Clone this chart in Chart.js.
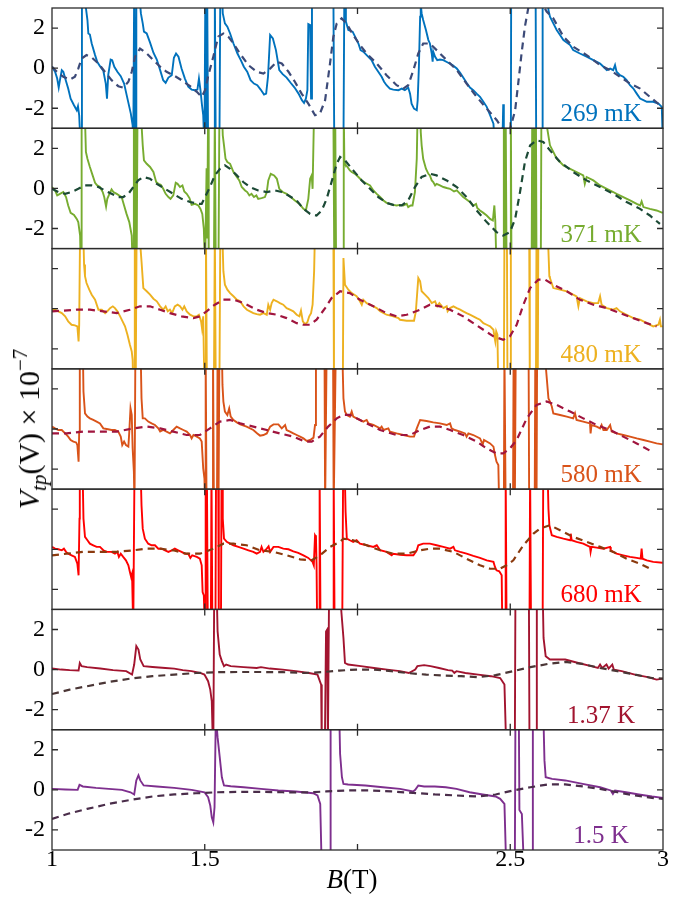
<!DOCTYPE html>
<html>
<head>
<meta charset="utf-8">
<script src="https://cdn.jsdelivr.net/npm/chart.js@4"></script>
<style>
  body { margin: 0; background: #fff; }
  #wrap { position: relative; width: 682px; height: 898px; }
  #ytitle {
    position: absolute; left: 29px; top: 429px;
    transform: translate(-50%, -50%) rotate(-90deg);
    font-family: "Liberation Serif"; font-size: 30px; white-space: nowrap; color: #000;
  }
  #ytitle sub { font-size: 21px; vertical-align: -7px; line-height: 0; }
  #ytitle sup { font-size: 21px; vertical-align: 12px; line-height: 0; }
  #xtitle {
    position: absolute; left: 352px; top: 864px; transform: translateX(-50%);
    font-family: "Liberation Serif"; font-size: 27px; white-space: nowrap; color: #000;
  }
</style>
</head>
<body>
<div id="wrap">
  <canvas id="chart" width="682" height="898"></canvas>
  <div id="ytitle"><i>V</i><sub><i>tp</i></sub>(V)&nbsp;×&nbsp;10<sup>−7</sup></div>
  <div id="xtitle"><i>B</i>(T)</div>
</div>
<script>
// temperatures (panel labels, top to bottom)
const tempLabels = ["269 mK", "371 mK", "480 mK", "580 mK", "680 mK", "1.37 K", "1.5 K"];
const xTicks = [1, 1.5, 2, 2.5, 3];
const xTickLabels = ["1", "1.5", "", "2.5", "3"];
const yTicks = [-2, 0, 2];

// measured traces: [B (T), V (1e-7 V)]; +-4 means off scale
const trace269 = [[1.0,0.07],[1.010,-0.18],[1.017,-0.52],[1.022,-0.97],[1.026,-0.6],[1.032,-0.1],[1.037,-0.18],[1.045,-0.6],[1.053,-1.02],[1.061,-1.52],[1.072,-1.85],[1.081,-2.1],[1.085,-1.9],[1.089,-2.35],[1.094,-4],[1.096,-4],[1.098,4],[1.107,4],
  [1.111,3.0],[1.116,2.4],[1.119,1.73],[1.124,1.68],[1.130,1.23],[1.141,0.65],[1.148,0.32],[1.157,0.1],[1.168,-0.13],[1.176,-0.77],[1.180,-1.52],[1.184,-0.35],[1.192,0.43],[1.197,0.4],[1.204,0.07],[1.214,-0.18],[1.225,-0.4],[1.236,-0.77],[1.247,-1.52],[1.258,-2.27],[1.264,-2.85],[1.266,-4],
  [1.268,-4],[1.269,4],[1.271,4],[1.273,-4],[1.275,-4],[1.276,4],[1.284,4],
  [1.291,2.73],[1.297,2.23],[1.301,1.82],[1.310,1.73],[1.321,1.27],[1.332,0.77],[1.343,0.43],[1.354,-0.1],[1.364,-0.6],[1.372,-0.73],[1.381,-0.47],[1.392,-0.35],[1.399,0.52],[1.406,0.73],[1.414,0.57],[1.424,-0.02],[1.435,-0.52],[1.446,-0.93],[1.457,-1.07],[1.468,-1.1],[1.476,-1.07],[1.481,-0.52],[1.486,-1.1],[1.491,-1.85],[1.495,-2.35],[1.499,-4],
  [1.502,4],[1.505,-4],[1.508,4],[1.511,-4],[1.531,-4],[1.533,4],[1.536,-4],[1.548,-4],[1.551,4],[1.556,4],
  [1.559,2.73],[1.566,2.23],[1.574,2.07],[1.583,1.73],[1.594,1.23],[1.607,0.73],[1.618,0.4],[1.628,0.07],[1.639,-0.18],[1.650,-0.6],[1.661,-0.77],[1.672,-0.85],[1.683,-1.07],[1.694,-1.32],[1.701,-1.27],[1.707,-0.43],[1.714,1.65],[1.723,1.48],[1.733,0.9],[1.744,-0.1],[1.755,-0.3],[1.768,-0.47],[1.781,-0.73],[1.794,-0.97],[1.807,-1.27],[1.818,-1.6],[1.825,-1.73],[1.831,-1.52],[1.836,-1.1],[1.839,2.2],[1.845,2.15],[1.848,-1.52],[1.851,4],
  [1.921,4],[1.924,-4],[1.954,-4],[1.957,4],[1.960,4],
  [1.962,2.32],[1.970,1.9],[1.984,1.82],[1.992,1.57],[2.003,1.23],[2.010,0.9],[2.019,0.82],[2.030,0.65],[2.046,0.4],[2.057,0.07],[2.068,-0.18],[2.079,-0.43],[2.087,-0.68],[2.095,-0.85],[2.106,-1.02],[2.117,-1.07],[2.134,-1.1],[2.145,-1.02],[2.155,-1.1],[2.166,-0.97],[2.172,-1.27],[2.177,-1.77],[2.185,-2.02],[2.194,-2.1],[2.197,-1.6],[2.201,0.07],[2.205,2.57],[2.207,3.2],[2.210,2.73],[2.215,2.4],[2.224,1.9],[2.232,1.4],[2.237,1.23],[2.243,0.73],[2.246,0.32],[2.248,0.82],[2.254,0.57],[2.261,0.4],[2.270,0.43],[2.281,0.4],[2.297,0.27],[2.311,0.15],[2.325,-0.02],[2.336,-0.23],[2.346,-0.47],[2.357,-0.73],[2.368,-0.97],[2.379,-1.1],[2.390,-1.27],[2.401,-1.43],[2.412,-1.68],[2.423,-1.93],[2.434,-2.35],[2.445,-2.77],[2.450,-4],
  [2.474,-4],[2.477,-1.8],[2.479,-4],[2.502,-4],[2.503,4],[2.583,4],[2.585,-4],[2.604,-4],[2.606,4],[2.622,4],
  [2.625,2.9],[2.630,2.57],[2.641,2.23],[2.652,1.9],[2.663,1.65],[2.674,1.4],[2.696,1.15],[2.706,0.9],[2.728,0.73],[2.750,0.57],[2.772,0.4],[2.794,0.23],[2.805,0.07],[2.816,-0.1],[2.827,-0.02],[2.837,-0.1],[2.843,0.15],[2.848,-0.18],[2.859,-0.35],[2.870,-0.43],[2.881,-0.6],[2.892,-0.85],[2.903,-1.02],[2.914,-1.27],[2.925,-1.52],[2.936,-1.6],[2.947,-1.68],[2.968,-1.68],[2.985,-1.77],[2.996,-1.93],[3.0,-4]];

const trace371 = [[1.0,0.07],[1.010,-0.1],[1.017,-0.35],[1.026,-0.27],[1.037,-0.18],[1.046,-0.43],[1.053,-0.85],[1.061,-1.22],[1.072,-1.32],[1.081,-1.52],[1.086,-1.68],[1.092,-2.35],[1.094,-4],[1.095,-4],[1.097,4],[1.107,4],
  [1.111,1.82],[1.116,1.48],[1.124,1.07],[1.133,0.65],[1.141,0.28],[1.148,0.15],[1.157,0.07],[1.166,-0.18],[1.171,-0.43],[1.177,-0.9],[1.181,-0.52],[1.188,-0.27],[1.195,-0.05],[1.201,-0.18],[1.212,-0.27],[1.220,-0.35],[1.228,-0.43],[1.236,-0.85],[1.244,-1.27],[1.253,-1.68],[1.261,-2.35],[1.264,-4],
  [1.266,-4],[1.268,4],[1.271,-4],[1.274,4],[1.277,-4],[1.280,4],[1.290,4],
  [1.297,2.15],[1.301,1.4],[1.310,1.23],[1.321,1.07],[1.332,0.82],[1.341,0.32],[1.348,0.23],[1.356,0.18],[1.364,-0.02],[1.372,-0.27],[1.381,-0.43],[1.388,-0.52],[1.397,-0.35],[1.405,0.28],[1.411,0.23],[1.419,0.07],[1.427,0.15],[1.433,-0.15],[1.441,-0.27],[1.450,-0.48],[1.457,-0.82],[1.468,-0.77],[1.479,-0.85],[1.486,-1.02],[1.492,-1.27],[1.497,-2.02],[1.501,-4],
  [1.503,-4],[1.506,1.0],[1.508,-2.5],[1.511,4],[1.513,-4],[1.530,-4],[1.533,4],[1.536,-4],[1.545,-4],[1.548,4],[1.556,4],
  [1.559,2.65],[1.563,2.15],[1.568,1.48],[1.574,1.32],[1.583,1.23],[1.594,0.82],[1.605,0.57],[1.613,0.4],[1.621,0.07],[1.632,-0.1],[1.639,-0.18],[1.646,-0.35],[1.653,-0.27],[1.661,-0.43],[1.669,-0.35],[1.675,-0.52],[1.686,-0.48],[1.697,-0.43],[1.703,-0.18],[1.708,0.4],[1.716,0.73],[1.727,0.65],[1.736,0.48],[1.744,-0.02],[1.755,-0.18],[1.768,-0.27],[1.781,-0.43],[1.795,-0.6],[1.810,-0.77],[1.823,-1.02],[1.831,-1.1],[1.839,-0.52],[1.845,0.48],[1.850,0.65],[1.853,-0.02],[1.858,4],
  [1.921,4],[1.924,-4],[1.927,4],[1.930,-4],[1.953,-4],[1.955,4],[1.957,1.3],
  [1.959,1.23],[1.967,1.07],[1.975,0.9],[1.981,0.82],[1.992,0.73],[2.003,0.57],[2.014,0.4],[2.025,0.28],[2.041,0.15],[2.052,-0.1],[2.063,-0.27],[2.074,-0.43],[2.085,-0.6],[2.095,-0.72],[2.106,-0.77],[2.117,-0.82],[2.128,-0.85],[2.139,-0.82],[2.150,-0.85],[2.161,-0.77],[2.166,-0.93],[2.174,-0.85],[2.180,-0.85],[2.188,-0.18],[2.194,1.48],[2.197,4],[2.205,4],[2.207,2.82],[2.210,2.15],[2.215,1.48],[2.224,0.98],[2.232,0.73],[2.237,0.65],[2.243,0.4],[2.248,0.32],[2.254,0.15],[2.259,0.23],[2.270,0.15],[2.281,0.07],[2.292,0.02],[2.303,-0.02],[2.316,-0.15],[2.325,-0.1],[2.336,-0.27],[2.346,-0.43],[2.357,-0.55],[2.368,-0.68],[2.379,-0.85],[2.388,-0.77],[2.392,-0.98],[2.401,-1.1],[2.412,-1.22],[2.423,-1.35],[2.434,-1.52],[2.443,-1.6],[2.448,-0.85],[2.451,-1.6],[2.455,-4],
  [2.477,-4],[2.479,4],[2.482,-4],[2.485,4],[2.488,-4],[2.500,-4],[2.502,4],[2.504,-4],[2.570,-4],[2.572,4],[2.575,-4],[2.578,4],[2.581,-4],[2.584,4],[2.586,-4],[2.600,-4],[2.602,4],[2.618,4],
  [2.621,3.0],[2.630,2.15],[2.641,1.82],[2.652,1.48],[2.663,1.32],[2.674,1.15],[2.696,0.98],[2.717,0.82],[2.739,0.65],[2.744,0.23],[2.750,0.57],[2.772,0.4],[2.794,0.15],[2.816,-0.02],[2.837,-0.18],[2.848,-0.27],[2.870,-0.43],[2.892,-0.6],[2.914,-0.77],[2.925,-0.85],[2.930,-0.65],[2.936,-0.93],[2.957,-1.02],[2.979,-1.1],[2.999,-1.22]];

const trace480 = [[1.0,-0.05],[1.010,-0.05],[1.021,-0.13],[1.032,-0.22],[1.043,-0.38],[1.053,-0.63],[1.064,-0.8],[1.075,-0.83],[1.083,-0.88],[1.087,-1.63],[1.089,-0.8],[1.092,4],[1.102,4],
  [1.105,2.2],[1.108,1.62],[1.113,1.28],[1.122,0.95],[1.130,0.7],[1.141,0.45],[1.152,-0.05],[1.163,-0.05],[1.174,-0.22],[1.181,-0.13],[1.190,0.03],[1.199,0.12],[1.206,0.03],[1.214,-0.13],[1.223,-0.38],[1.231,-0.63],[1.239,-0.88],[1.247,-1.3],[1.255,-1.8],[1.261,-2.13],[1.264,-2.55],[1.266,-4],
  [1.269,-4],[1.271,4],[1.274,-4],[1.277,4],[1.285,4],
  [1.293,2.37],[1.299,1.03],[1.310,0.87],[1.321,0.7],[1.332,0.5],[1.343,0.37],[1.354,0.12],[1.364,-0.05],[1.372,0.12],[1.379,-0.13],[1.386,-0.05],[1.393,-0.22],[1.402,0.12],[1.411,0.2],[1.419,0.12],[1.427,-0.05],[1.433,0.12],[1.441,-0.13],[1.452,-0.3],[1.463,-0.38],[1.474,-0.38],[1.481,-0.3],[1.488,-0.63],[1.491,-0.97],[1.495,-0.38],[1.499,-4],
  [1.501,-4],[1.504,4],[1.507,-4],[1.530,-4],[1.533,4],[1.536,-4],[1.548,-4],[1.551,4],[1.557,4],
  [1.561,1.87],[1.566,1.2],[1.574,0.95],[1.583,0.78],[1.594,0.62],[1.605,0.45],[1.616,0.37],[1.627,0.12],[1.638,-0.05],[1.648,-0.13],[1.659,-0.22],[1.670,-0.27],[1.681,-0.3],[1.692,-0.22],[1.703,-0.3],[1.708,0.2],[1.714,-0.05],[1.719,0.28],[1.725,0.45],[1.736,0.37],[1.746,0.28],[1.757,0.2],[1.768,0.03],[1.779,-0.05],[1.790,-0.13],[1.801,-0.3],[1.810,-0.38],[1.815,-0.1],[1.821,-0.63],[1.828,-0.77],[1.836,-0.67],[1.842,-0.38],[1.848,-0.22],[1.853,0.2],[1.858,1.87],[1.861,4],
  [1.921,4],[1.923,-4],[1.952,-4],[1.954,2.53],
  [1.959,1.2],[1.970,0.95],[1.981,0.78],[1.997,0.62],[2.008,0.37],[2.014,0.2],[2.019,0.45],[2.030,0.28],[2.041,0.2],[2.052,0.12],[2.063,0.03],[2.074,-0.13],[2.095,-0.3],[2.117,-0.38],[2.134,-0.47],[2.139,-0.55],[2.161,-0.6],[2.185,-0.6],[2.191,-0.13],[2.199,1.53],[2.205,1.37],[2.210,0.87],[2.221,0.7],[2.232,0.53],[2.243,0.28],[2.254,0.37],[2.261,0.12],[2.268,0.28],[2.272,0.2],[2.281,0.03],[2.292,0.12],[2.295,-0.13],[2.303,0.03],[2.314,0.12],[2.325,0.03],[2.336,-0.05],[2.346,-0.13],[2.357,-0.22],[2.368,-0.3],[2.379,-0.38],[2.390,-0.47],[2.401,-0.55],[2.412,-0.72],[2.423,-0.8],[2.434,-0.88],[2.445,-1.05],[2.448,-1.38],[2.451,-1.63],[2.454,-1.13],[2.458,-1.3],[2.461,-4],
  [2.479,-4],[2.481,4],[2.489,4],[2.491,-4],[2.500,-4],[2.502,4],[2.562,4],[2.564,-4],[2.584,-4],[2.586,4],[2.590,-4],[2.592,4],[2.622,4],
  [2.625,2.87],[2.628,1.62],[2.630,1.53],[2.641,1.03],[2.663,0.95],[2.685,0.87],[2.706,0.7],[2.717,0.62],[2.723,0.12],[2.728,0.53],[2.750,0.37],[2.772,0.28],[2.788,0.28],[2.794,0.62],[2.799,0.2],[2.816,0.03],[2.837,-0.05],[2.848,0.03],[2.859,-0.13],[2.881,-0.3],[2.903,-0.47],[2.925,-0.55],[2.947,-0.72],[2.968,-0.88],[2.985,-0.8],[2.990,-0.55],[2.993,-0.88],[2.999,-0.88]];

const trace580 = [[1.0,0.12],[1.010,0.03],[1.021,-0.05],[1.032,-0.05],[1.043,-0.22],[1.053,-0.38],[1.061,-0.55],[1.070,-0.63],[1.079,-0.67],[1.083,-0.8],[1.087,-1.63],[1.089,-0.13],[1.091,4],[1.101,4],
  [1.103,1.87],[1.108,0.78],[1.116,0.62],[1.124,0.53],[1.135,0.45],[1.146,0.37],[1.157,0.28],[1.168,0.03],[1.179,0],[1.195,-0.05],[1.206,-0.05],[1.217,-0.13],[1.225,-0.38],[1.230,-0.8],[1.236,-0.63],[1.242,-0.8],[1.250,-0.88],[1.253,-0.13],[1.257,1.03],[1.261,0.7],[1.264,-0.97],[1.268,-2.13],[1.270,-4],
  [1.271,-4],[1.273,4],[1.290,4],
  [1.293,1.53],[1.297,0.53],[1.304,0.53],[1.315,0.37],[1.326,0.28],[1.337,0.2],[1.348,0.03],[1.354,-0.13],[1.364,-0.05],[1.375,-0.13],[1.386,-0.22],[1.397,-0.05],[1.408,0.12],[1.419,0.03],[1.430,-0.05],[1.441,-0.13],[1.452,-0.3],[1.457,-0.47],[1.463,-0.3],[1.474,-0.38],[1.484,-0.47],[1.490,-0.63],[1.495,-1.97],[1.499,-2.47],[1.501,-4],
  [1.503,4],[1.506,-4],[1.525,-4],[1.527,4],[1.530,-4],[1.540,-4],[1.542,4],[1.545,-4],[1.548,4],[1.556,4],
  [1.558,2.2],[1.561,1.37],[1.566,0.87],[1.574,0.7],[1.580,1.03],[1.585,0.62],[1.594,0.45],[1.605,0.33],[1.616,0.23],[1.637,0.12],[1.659,-0.05],[1.672,-0.22],[1.681,-0.33],[1.692,-0.3],[1.703,-0.22],[1.714,0.12],[1.725,0.23],[1.741,0.23],[1.752,0.03],[1.763,0.2],[1.768,-0.05],[1.779,-0.13],[1.790,-0.22],[1.801,-0.3],[1.812,-0.38],[1.823,-0.47],[1.834,-0.6],[1.845,-0.55],[1.856,-0.43],[1.861,0.2],[1.864,4],
  [1.892,4],[1.894,-4],[1.899,4],[1.920,4],[1.922,-4],[1.929,4],[1.950,4],
  [1.954,1.53],[1.959,0.87],[1.965,0.7],[1.975,0.62],[1.981,0.87],[1.986,0.62],[1.997,0.53],[2.008,0.45],[2.019,0.37],[2.030,0.45],[2.036,0.28],[2.052,0.2],[2.074,0.03],[2.079,0.12],[2.085,-0.05],[2.101,0.03],[2.106,-0.13],[2.128,-0.22],[2.150,-0.3],[2.172,-0.38],[2.185,-0.38],[2.194,0.03],[2.205,0.45],[2.226,0.4],[2.248,0.33],[2.270,0.28],[2.292,0.2],[2.303,0.28],[2.308,0.03],[2.319,-0.05],[2.336,-0.13],[2.352,-0.22],[2.357,-0.38],[2.363,-0.22],[2.379,-0.3],[2.401,-0.47],[2.410,-0.77],[2.414,-0.55],[2.434,-0.72],[2.445,-0.88],[2.450,-1.3],[2.455,-1.63],[2.461,-1.8],[2.464,-4],
  [2.479,-4],[2.481,4],[2.485,-4],[2.509,-4],[2.511,4],[2.515,-4],[2.518,4],[2.560,4],[2.562,-4],[2.580,-4],[2.582,4],[2.586,-4],[2.588,4],[2.614,4],
  [2.617,3.0],[2.625,1.53],[2.630,1.37],[2.636,1.12],[2.641,0.78],[2.663,0.7],[2.685,0.62],[2.706,0.53],[2.712,0.78],[2.717,0.45],[2.739,0.37],[2.761,0.28],[2.763,-0.22],[2.766,0.2],[2.783,0.12],[2.794,0.03],[2.799,0.2],[2.805,-0.05],[2.816,-0.05],[2.827,0.2],[2.832,-0.13],[2.848,-0.22],[2.870,-0.3],[2.892,-0.38],[2.914,-0.47],[2.936,-0.55],[2.957,-0.63],[2.979,-0.72],[2.999,-0.77]];

const trace680 = [[1.0,0.12],[1.010,0.03],[1.021,0],[1.032,-0.05],[1.039,0.03],[1.046,-0.13],[1.053,-0.22],[1.064,-0.3],[1.075,-0.38],[1.083,-0.72],[1.087,-1.3],[1.090,1.53],[1.091,4],[1.100,4],
  [1.103,1.53],[1.108,0.62],[1.116,0.45],[1.124,0.28],[1.135,0.2],[1.146,0.12],[1.157,0.12],[1.168,-0.05],[1.179,-0.13],[1.195,-0.13],[1.206,-0.22],[1.214,-0.13],[1.219,-0.38],[1.225,-0.22],[1.233,-0.38],[1.242,-0.55],[1.250,-0.8],[1.255,-1.13],[1.259,-1.38],[1.262,-1.22],[1.266,-4],
  [1.268,-4],[1.270,4],[1.290,4],
  [1.293,2.2],[1.297,1.03],[1.304,0.53],[1.315,0.28],[1.326,0.2],[1.337,0.2],[1.348,0.03],[1.359,0.03],[1.370,-0.05],[1.381,-0.13],[1.392,-0.05],[1.402,0.03],[1.413,-0.05],[1.424,-0.13],[1.435,-0.22],[1.446,-0.22],[1.453,-0.43],[1.459,-0.3],[1.474,-0.38],[1.484,-0.47],[1.490,-0.8],[1.493,-2.13],[1.497,-2.3],[1.500,-4],
  [1.501,-4],[1.503,4],[1.507,4],[1.510,-4],[1.520,-4],[1.522,4],[1.525,-4],[1.535,-4],[1.537,4],[1.544,4],[1.546,-4],[1.553,-4],[1.555,4],[1.558,4],
  [1.559,1.53],[1.563,0.53],[1.572,0.37],[1.583,0.28],[1.594,0.2],[1.610,0.12],[1.627,0.03],[1.643,-0.05],[1.659,-0.13],[1.670,-0.22],[1.681,-0.13],[1.686,0.12],[1.692,-0.13],[1.703,0.03],[1.709,0.15],[1.714,-0.13],[1.725,0.12],[1.741,0.12],[1.757,0.03],[1.774,0],[1.790,-0.1],[1.806,-0.18],[1.823,-0.3],[1.839,-0.43],[1.853,-0.63],[1.857,-0.8],[1.861,0.7],[1.864,0.62],[1.866,-0.8],[1.868,-4],
  [1.874,-4],[1.876,4],[1.879,-4],[1.920,-4],[1.922,4],[1.925,-4],[1.950,-4],[1.953,4],[1.958,4],
  [1.961,1.87],[1.965,0.53],[1.975,0.45],[1.986,0.37],[1.997,0.45],[2.008,0.28],[2.030,0.2],[2.052,0.12],[2.063,0.2],[2.074,-0.05],[2.095,-0.13],[2.112,-0.3],[2.117,-0.22],[2.139,-0.27],[2.161,-0.3],[2.183,-0.3],[2.194,-0.05],[2.199,0.2],[2.215,0.28],[2.237,0.28],[2.259,0.2],[2.281,0.12],[2.303,0.03],[2.314,0.12],[2.319,-0.05],[2.336,-0.13],[2.357,-0.22],[2.379,-0.33],[2.401,-0.43],[2.423,-0.55],[2.445,-0.63],[2.450,-0.88],[2.455,-1.05],[2.464,-1.1],[2.472,-1.3],[2.474,-4],
  [2.483,-4],[2.485,4],[2.488,-4],[2.563,-4],[2.565,4],[2.568,-4],[2.606,-4],[2.608,4],[2.622,4],
  [2.625,2.03],[2.628,1.2],[2.636,0.7],[2.652,0.62],[2.674,0.53],[2.696,0.45],[2.698,0.78],[2.701,0.45],[2.717,0.37],[2.739,0.28],[2.761,0.12],[2.763,-0.13],[2.766,0.12],[2.783,0.08],[2.805,0.03],[2.827,0.12],[2.829,-0.05],[2.837,-0.13],[2.848,-0.22],[2.870,-0.3],[2.892,-0.38],[2.914,-0.43],[2.927,-0.47],[2.930,0.03],[2.933,-0.47],[2.947,-0.55],[2.968,-0.63],[2.999,-0.67]];

const trace137 = [[1.0,0.05],[1.03,0],[1.058,-0.03],[1.087,-0.05],[1.091,0.33],[1.097,0.17],[1.115,0.12],[1.158,0.05],[1.2,-0.03],[1.243,-0.08],[1.262,-0.25],[1.269,0.25],[1.276,1.17],[1.283,1.0],[1.289,0.5],[1.3,0.17],[1.329,0.13],[1.371,0.08],[1.4,0.05],[1.428,-0.03],[1.457,-0.08],[1.485,-0.17],[1.499,-0.25],[1.511,-0.58],[1.518,-1.0],[1.523,-1.58],[1.527,-4],[1.528,-4],[1.531,4],[1.539,4],
  [1.542,1.92],[1.549,0.75],[1.556,0.42],[1.563,0.17],[1.570,0.25],[1.585,0.17],[1.627,0.12],[1.670,0.08],[1.684,0.12],[1.713,0.05],[1.755,0],[1.798,-0.08],[1.841,-0.17],[1.869,-0.25],[1.881,-0.75],[1.883,-4],
  [1.893,-4],[1.897,1.9],[1.901,2.0],[1.903,-4],[1.907,4],[1.945,4],
  [1.947,2.92],[1.954,1.58],[1.959,0.33],[1.969,0.25],[2.011,0.17],[2.054,0.08],[2.097,0],[2.139,-0.08],[2.168,-0.17],[2.189,0],[2.196,0.17],[2.218,0.22],[2.239,0.17],[2.267,0.08],[2.296,-0.03],[2.310,-0.05],[2.317,-0.17],[2.324,-0.08],[2.353,-0.17],[2.395,-0.25],[2.437,-0.33],[2.467,-0.42],[2.474,-0.58],[2.481,-0.75],[2.487,-4],
  [2.515,-4],[2.517,4],[2.561,4],[2.563,-4],[2.585,-4],[2.587,4],[2.606,4],
  [2.609,1.58],[2.616,0.67],[2.630,0.5],[2.680,0.5],[2.723,0.33],[2.765,0.17],[2.787,0.08],[2.794,0.25],[2.801,0.08],[2.815,0.25],[2.822,0.05],[2.834,0.25],[2.839,0],[2.865,-0.08],[2.908,-0.25],[2.950,-0.38],[2.979,-0.5],[3.0,-0.45]];

const trace150 = [[1.0,0.05],[1.044,0.02],[1.084,0],[1.090,0.25],[1.101,0.17],[1.144,0.1],[1.186,0.05],[1.229,0],[1.257,-0.12],[1.269,-0.23],[1.276,0.47],[1.283,0.72],[1.289,0.47],[1.300,0.22],[1.343,0.17],[1.400,0.1],[1.457,0],[1.499,-0.12],[1.511,-0.37],[1.518,-0.78],[1.523,-1.37],[1.528,-1.62],[1.532,-0.87],[1.536,3.5],[1.539,3.2],
  [1.542,2.63],[1.549,1.63],[1.556,0.63],[1.563,0.22],[1.585,0.18],[1.627,0.13],[1.684,0.05],[1.741,-0.03],[1.798,-0.08],[1.855,-0.17],[1.869,-0.28],[1.878,-0.7],[1.883,-4],
  [1.910,-4],[1.912,4],[1.940,4],
  [1.943,1.8],[1.949,0.63],[1.954,0.3],[1.969,0.27],[2.026,0.22],[2.083,0.13],[2.139,0.05],[2.182,-0.08],[2.189,0],[2.199,0.22],[2.218,0.17],[2.253,0.17],[2.289,0.13],[2.324,0.05],[2.367,-0.12],[2.410,-0.23],[2.452,-0.33],[2.467,-0.45],[2.481,-0.7],[2.487,-4],
  [2.515,-4],[2.517,4],[2.528,4],[2.530,-1.0],[2.538,-1.2],[2.545,-4],[2.572,-4],[2.574,4],[2.608,4],
  [2.612,1.47],[2.616,0.63],[2.637,0.55],[2.680,0.47],[2.737,0.3],[2.794,0.13],[2.829,-0.03],[2.836,-0.2],[2.843,-0.03],[2.879,-0.12],[2.921,-0.23],[2.964,-0.33],[3.0,-0.4]];

// model curves (dashed)
const fit269 = [[1.0,0.07],[1.016,-0.18],[1.037,-0.43],[1.059,-0.57],[1.075,-0.43],[1.086,-0.02],[1.097,0.48],[1.113,0.65],[1.130,0.53],[1.152,0.23],[1.173,-0.18],[1.195,-0.6],[1.217,-0.9],[1.233,-0.97],[1.250,-0.68],[1.261,-0.18],[1.272,0.57],[1.288,0.98],[1.310,0.73],[1.332,0.4],[1.354,0.07],[1.375,-0.18],[1.397,-0.35],[1.424,-0.6],[1.452,-0.9],[1.474,-1.18],[1.490,-1.43],[1.501,-1.1],[1.512,-0.35],[1.528,0.57],[1.544,1.57],[1.561,1.73],[1.577,1.57],[1.594,1.23],[1.615,0.73],[1.643,0.15],[1.670,-0.18],[1.692,-0.27],[1.714,-0.02],[1.736,0.32],[1.752,0.23],[1.774,-0.18],[1.795,-0.68],[1.817,-1.27],[1.839,-1.77],[1.861,-2.35],[1.877,-2.27],[1.894,-1.6],[1.910,0.23],[1.921,1.57],[1.932,2.23],[1.948,2.48],[1.964,2.23],[1.986,1.65],[2.008,1.15],[2.030,0.73],[2.063,0.23],[2.095,-0.35],[2.128,-0.85],[2.150,-1.02],[2.166,-0.85],[2.183,-0.1],[2.199,0.73],[2.215,1.23],[2.237,1.23],[2.259,0.9],[2.292,0.4],[2.325,-0.1],[2.357,-0.77],[2.390,-1.43],[2.423,-2.02],[2.456,-2.6],[2.477,-3.1],[2.495,-3.3],[2.516,-2.1],[2.526,-0.77],[2.537,0.73],[2.548,2.07],[2.559,3.0],[2.59,3.6],[2.619,2.82],[2.641,2.48],[2.674,1.57],[2.706,1.07],[2.750,0.65],[2.794,0.15],[2.827,-0.1],[2.859,-0.43],[2.892,-0.77],[2.925,-1.02],[2.957,-1.43],[2.996,-1.93]];
const fit371 = [[1.0,-0.02],[1.021,-0.18],[1.043,-0.27],[1.064,-0.18],[1.086,-0.02],[1.108,0.15],[1.130,0.15],[1.152,0.07],[1.173,-0.1],[1.195,-0.27],[1.217,-0.43],[1.233,-0.43],[1.250,-0.27],[1.266,0.07],[1.282,0.4],[1.299,0.57],[1.321,0.48],[1.343,0.23],[1.370,-0.02],[1.397,-0.27],[1.424,-0.52],[1.452,-0.68],[1.479,-0.77],[1.490,-0.77],[1.501,-0.43],[1.517,0.07],[1.533,0.65],[1.550,0.98],[1.566,1.15],[1.583,0.98],[1.605,0.65],[1.626,0.32],[1.648,0.07],[1.675,-0.1],[1.703,-0.18],[1.730,-0.1],[1.752,-0.18],[1.774,-0.35],[1.801,-0.6],[1.823,-1.02],[1.845,-1.27],[1.866,-1.35],[1.883,-1.1],[1.899,-0.52],[1.915,0.32],[1.932,1.23],[1.943,1.57],[1.959,1.4],[1.986,0.9],[2.014,0.4],[2.041,-0.02],[2.068,-0.43],[2.095,-0.72],[2.123,-0.85],[2.145,-0.85],[2.166,-0.6],[2.188,0.07],[2.210,0.57],[2.237,0.73],[2.259,0.65],[2.292,0.4],[2.325,0.07],[2.357,-0.43],[2.390,-1.1],[2.423,-1.68],[2.455,-2.18],[2.477,-2.35],[2.499,-2.18],[2.516,-1.52],[2.532,-0.18],[2.548,1.32],[2.565,2.15],[2.586,2.4],[2.608,2.32],[2.630,1.9],[2.663,1.32],[2.706,0.82],[2.750,0.4],[2.794,0.07],[2.837,-0.27],[2.881,-0.68],[2.925,-1.02],[2.957,-1.35],[2.990,-1.77]];
const fit480 = [[1.0,-0.13],[1.037,-0.1],[1.081,-0.05],[1.124,-0.05],[1.168,-0.13],[1.212,-0.22],[1.255,-0.05],[1.288,0.12],[1.321,0.12],[1.354,-0.05],[1.386,-0.22],[1.424,-0.38],[1.463,-0.47],[1.484,-0.38],[1.506,-0.13],[1.533,0.2],[1.561,0.45],[1.594,0.45],[1.627,0.28],[1.670,-0.05],[1.703,-0.22],[1.736,-0.3],[1.768,-0.47],[1.801,-0.72],[1.823,-0.8],[1.845,-0.8],[1.866,-0.55],[1.894,0.03],[1.915,0.53],[1.943,0.87],[1.975,0.78],[2.008,0.45],[2.052,0.12],[2.095,-0.22],[2.128,-0.38],[2.161,-0.3],[2.205,-0.05],[2.237,0.2],[2.270,0.12],[2.303,-0.05],[2.346,-0.38],[2.379,-0.72],[2.412,-1.05],[2.445,-1.38],[2.477,-1.55],[2.499,-1.38],[2.521,-0.8],[2.543,0.2],[2.565,1.03],[2.592,1.45],[2.614,1.45],[2.641,1.2],[2.685,0.87],[2.728,0.45],[2.772,0.2],[2.816,0.03],[2.859,-0.22],[2.903,-0.47],[2.947,-0.72],[2.979,-0.88]];
const fit580 = [[1.0,-0.22],[1.048,-0.22],[1.103,-0.13],[1.157,-0.13],[1.212,-0.13],[1.266,0.03],[1.310,0.12],[1.354,0.03],[1.397,-0.13],[1.441,-0.3],[1.484,-0.3],[1.517,0.03],[1.550,0.37],[1.583,0.45],[1.616,0.28],[1.659,0.12],[1.703,-0.05],[1.746,-0.22],[1.790,-0.38],[1.828,-0.63],[1.850,-0.63],[1.877,-0.38],[1.904,0.12],[1.932,0.53],[1.954,0.7],[1.975,0.7],[2.030,0.28],[2.074,-0.05],[2.128,-0.3],[2.172,-0.3],[2.205,-0.05],[2.237,0.12],[2.270,0.12],[2.303,-0.05],[2.346,-0.3],[2.390,-0.63],[2.423,-0.97],[2.455,-1.22],[2.477,-1.22],[2.499,-0.97],[2.521,-0.55],[2.554,0.53],[2.586,1.2],[2.619,1.37],[2.652,1.2],[2.696,0.87],[2.739,0.53],[2.783,0.2],[2.827,-0.05],[2.870,-0.38],[2.914,-0.72],[2.968,-1.17]];
const fit680 = [[1.0,-0.3],[1.048,-0.22],[1.103,-0.13],[1.157,-0.13],[1.212,-0.13],[1.266,-0.05],[1.310,0.03],[1.354,0.03],[1.397,-0.05],[1.441,-0.22],[1.484,-0.22],[1.528,0.03],[1.561,0.28],[1.594,0.28],[1.637,0.2],[1.681,-0.05],[1.725,-0.13],[1.768,-0.3],[1.812,-0.5],[1.850,-0.55],[1.877,-0.3],[1.910,0.12],[1.943,0.37],[1.954,0.53],[1.986,0.45],[2.030,0.2],[2.074,-0.05],[2.117,-0.22],[2.161,-0.22],[2.205,-0.05],[2.237,0.03],[2.270,0.03],[2.314,-0.13],[2.357,-0.47],[2.401,-0.8],[2.434,-0.97],[2.466,-0.97],[2.488,-0.8],[2.510,-0.55],[2.543,0.2],[2.576,0.78],[2.597,1.03],[2.630,1.2],[2.663,0.95],[2.706,0.62],[2.750,0.37],[2.794,0.12],[2.837,-0.13],[2.881,-0.47],[2.925,-0.72],[2.968,-1.05]];
const fit137 = [[1.0,-1.22],[1.058,-1.0],[1.115,-0.83],[1.186,-0.62],[1.257,-0.45],[1.329,-0.33],[1.4,-0.25],[1.471,-0.17],[1.542,-0.13],[1.613,-0.12],[1.684,-0.12],[1.755,-0.13],[1.826,-0.17],[1.883,-0.13],[1.940,-0.05],[1.997,0],[2.054,0],[2.111,-0.08],[2.168,-0.18],[2.225,-0.25],[2.282,-0.3],[2.339,-0.33],[2.395,-0.38],[2.452,-0.28],[2.509,-0.08],[2.566,0.12],[2.623,0.28],[2.680,0.38],[2.737,0.28],[2.794,0.08],[2.851,-0.08],[2.908,-0.25],[2.964,-0.42],[3.0,-0.45]];
const fit150 = [[1.0,-1.45],[1.058,-1.17],[1.115,-0.95],[1.186,-0.7],[1.257,-0.5],[1.329,-0.33],[1.4,-0.23],[1.471,-0.17],[1.542,-0.12],[1.613,-0.1],[1.684,-0.1],[1.755,-0.12],[1.826,-0.13],[1.898,-0.08],[1.969,-0.03],[2.040,-0.03],[2.111,-0.08],[2.182,-0.15],[2.253,-0.23],[2.324,-0.28],[2.395,-0.33],[2.452,-0.23],[2.509,-0.03],[2.566,0.13],[2.623,0.27],[2.680,0.27],[2.737,0.17],[2.794,0.05],[2.851,-0.12],[2.908,-0.28],[2.964,-0.4],[3.0,-0.45]];

const traces = [trace269, trace371, trace480, trace580, trace680, trace137, trace150];
const fits = [fit269, fit371, fit480, fit580, fit680, fit137, fit150];

// styles
const lineColors = ["#0072BD", "#77AC30", "#EDB120", "#D95319", "#FF0000", "#A2142F", "#7E2F8E"];
const fitColors = ["#3C4A78", "#1C4A36", "#A0153E", "#A0153E", "#8B3A0E", "#4B3636", "#4A2D4A"];
const showYLabels = [true, true, false, false, false, true, true];
const serif = "Liberation Serif";

const panelIds = tempLabels.map((_, i) => "p" + i);
const toXY = arr => arr.map(p => ({x: p[0], y: p[1]}));

const datasets = [];
panelIds.forEach((id, i) => {
  datasets.push({
    data: toXY(fits[i]), yAxisID: id, borderColor: fitColors[i], borderWidth: 2.2,
    borderDash: [7, 5], pointRadius: 0, order: 0, clip: 0
  });
  datasets.push({
    data: toXY(traces[i]), yAxisID: id, borderColor: lineColors[i], borderWidth: 1.9,
    pointRadius: 0, order: 1, clip: 0
  });
});

const scales = {
  x: {
    type: "linear", min: 1, max: 3,
    afterBuildTicks: s => { s.ticks = xTicks.map(v => ({value: v})); },
    ticks: { callback: (v, i) => xTickLabels[i], font: {family: serif, size: 24}, color: "#000",
             padding: -13, maxRotation: 0, autoSkip: false },
    grid: { display: false }, border: { display: false },
    afterFit: s => { s.height = 48; s.paddingLeft = 0; s.paddingRight = 0; }
  }
};
// later scales stack on top, so add the bottom panel first
for (let i = panelIds.length - 1; i >= 0; i--) {
  scales[panelIds[i]] = {
    type: "linear", position: "left", stack: "panels", stackWeight: 1, min: -3, max: 3,
    afterBuildTicks: s => { s.ticks = yTicks.map(v => ({value: v})); },
    ticks: { display: showYLabels[i], font: {family: serif, size: 24}, color: "#000",
             padding: -1, autoSkip: false },
    grid: { display: false }, border: { display: false },
    afterFit: s => { s.width = 52; s.paddingTop = 0; s.paddingBottom = 0; }
  };
}

const framePlugin = {
  id: "frames",
  afterDatasetsDraw(chart) {
    const ctx = chart.ctx, xs = chart.scales.x, area = chart.chartArea;
    ctx.save();
    panelIds.forEach((id, i) => {
      const ys = chart.scales[id];
      ctx.strokeStyle = "#2b2b2b";
      ctx.lineWidth = 1.3;
      ctx.strokeRect(area.left, ys.top, area.right - area.left, ys.bottom - ys.top);
      ctx.beginPath();
      yTicks.forEach(v => {
        const py = ys.getPixelForValue(v);
        ctx.moveTo(area.left, py); ctx.lineTo(area.left + 6, py);
        ctx.moveTo(area.right, py); ctx.lineTo(area.right - 6, py);
      });
      xTicks.slice(1, -1).forEach(v => {
        const px = xs.getPixelForValue(v);
        ctx.moveTo(px, ys.top); ctx.lineTo(px, ys.top + 6);
        ctx.moveTo(px, ys.bottom); ctx.lineTo(px, ys.bottom - 6);
      });
      ctx.stroke();
      ctx.font = "25px '" + serif + "'";
      ctx.fillStyle = lineColors[i];
      ctx.textAlign = "center";
      ctx.textBaseline = "alphabetic";
      ctx.fillText(tempLabels[i], area.right - 62, ys.bottom - 7);
    });
    ctx.restore();
  }
};

new Chart(document.getElementById("chart"), {
  type: "line",
  data: { datasets },
  options: {
    responsive: false, animation: false, parsing: true,
    layout: { padding: { top: 8, right: 19, left: 0, bottom: 0 } },
    plugins: { legend: { display: false }, tooltip: { enabled: false } },
    elements: { line: { tension: 0 } },
    scales
  },
  plugins: [framePlugin]
});
</script>
</body>
</html>
